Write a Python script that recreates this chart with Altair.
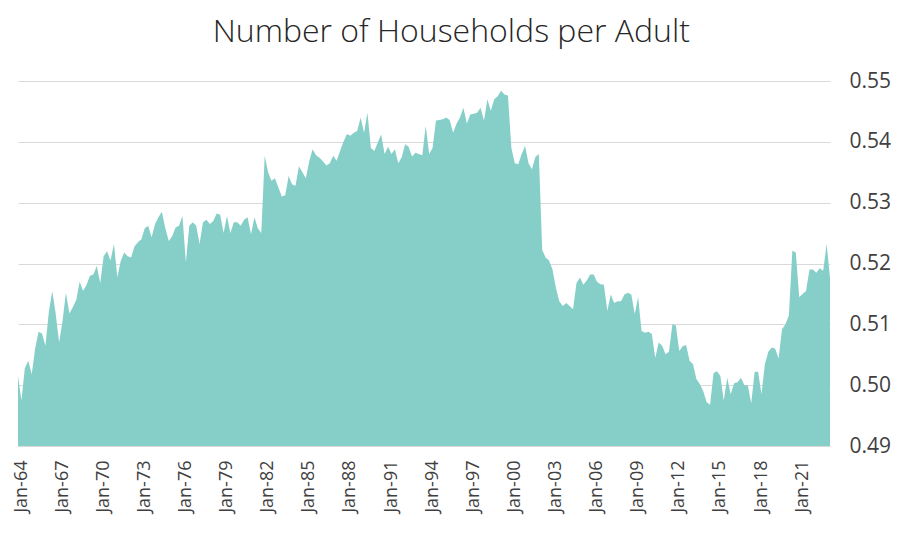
import altair as alt
import pandas as pd

# Quarterly values (Jan, Apr, Jul, Oct)
q_1964_1969 = [0.5015, 0.4975, 0.5028, 0.5040,
               0.5018, 0.5060, 0.5088, 0.5085,
               0.5065, 0.5120, 0.5155, 0.5118,
               0.5070, 0.5105, 0.5152, 0.5118,
               0.5128, 0.5140, 0.5170, 0.5155,
               0.5165, 0.5180, 0.5182, 0.5196]
q_1970s = [0.5168, 0.5212, 0.5220, 0.5205,
           0.5232, 0.5178, 0.5204, 0.5218,
           0.5212, 0.5210, 0.5228, 0.5235,
           0.5240, 0.5258, 0.5262, 0.5243,
           0.5265, 0.5276, 0.5285, 0.5258,
           0.5237, 0.5245, 0.5259, 0.5262,
           0.5278, 0.5202, 0.5262, 0.5268,
           0.5262, 0.5232, 0.5268, 0.5272,
           0.5265, 0.5270, 0.5282, 0.5280,
           0.5250, 0.5278, 0.5250, 0.5268]
q_1980s = [0.5268, 0.5262, 0.5272, 0.5276,
           0.5248, 0.5276, 0.5258, 0.5250,
           0.5377, 0.5350, 0.5336, 0.5340,
           0.5325, 0.5310, 0.5312, 0.5344,
           0.5330, 0.5328, 0.5360, 0.5350,
           0.5340, 0.5368, 0.5388, 0.5378,
           0.5374, 0.5368, 0.5361, 0.5365,
           0.5377, 0.5369, 0.5385, 0.5400,
           0.5413, 0.5410, 0.5415, 0.5418,
           0.5440, 0.5415, 0.5448, 0.5390]
q_1990s = [0.5385, 0.5399, 0.5412, 0.5380,
           0.5392, 0.5380, 0.5388, 0.5365,
           0.5375, 0.5396, 0.5392, 0.5376,
           0.5382, 0.5380, 0.5378, 0.5426,
           0.5380, 0.5390, 0.5435, 0.5436,
           0.5437, 0.5440, 0.5436, 0.5415,
           0.5430, 0.5440, 0.5456, 0.5430,
           0.5445, 0.5446, 0.5448, 0.5456,
           0.5435, 0.5470, 0.5451, 0.5470,
           0.5475, 0.5484, 0.5478, 0.5476]
q_2000s = [0.5390, 0.5365, 0.5363, 0.5380,
           0.5393, 0.5365, 0.5355, 0.5375,
           0.5380, 0.5222, 0.5210, 0.5205,
           0.5190, 0.5160, 0.5138, 0.5130,
           0.5135, 0.5130, 0.5125, 0.5168,
           0.5177, 0.5165, 0.5172, 0.5182,
           0.5182, 0.5170, 0.5166, 0.5165,
           0.5122, 0.5149, 0.5135, 0.5138,
           0.5138, 0.5149, 0.5152, 0.5149,
           0.5117, 0.5145, 0.5089, 0.5086]
q_2010s = [0.5088, 0.5084, 0.5045, 0.5070,
           0.5065, 0.5051, 0.5055, 0.5100,
           0.5098, 0.5056, 0.5064, 0.5066,
           0.5040, 0.5035, 0.5010, 0.5002,
           0.4990, 0.4972, 0.4968, 0.5020,
           0.5023, 0.5015, 0.4975, 0.5012,
           0.4985, 0.5003, 0.5005, 0.5012,
           0.5000, 0.5000, 0.4970, 0.5022,
           0.5022, 0.4985, 0.5035, 0.5055,
           0.5062, 0.5060, 0.5044, 0.5092]
q_2020s = [0.5100, 0.5115, 0.5221, 0.5218,
           0.5145, 0.5150, 0.5155, 0.5190,
           0.5190, 0.5185, 0.5192, 0.5188,
           0.5232, 0.5177]

y_ticks = [0.49, 0.50, 0.51, 0.52, 0.53, 0.54, 0.55]
label_years = list(range(1964, 2022, 3))

values = q_1964_1969 + q_1970s + q_1980s + q_1990s + q_2000s + q_2010s + q_2020s
dates = pd.date_range("1964-01-01", periods=len(values), freq="QS")
df = pd.DataFrame({"date": dates.strftime("%Y-%m-%d"), "value": values})

x_ticks = [alt.DateTime(year=y, month=1, date=1) for y in label_years]

chart = alt.Chart(df).mark_area(color="#86cfc9", opacity=1, clip=True).encode(
    x=alt.X("date:T",
            scale=alt.Scale(nice=False),
            axis=alt.Axis(values=x_ticks, format="%b-%y", labelAngle=-90,
                          labelFont="Open Sans", labelFontSize=18, labelColor="#404040",
                          labelPadding=14, labelOffset=3, ticks=False, tickSize=0, grid=False,
                          domainColor="#d9d9d9", title=None, labelOverlap=False)),
    y=alt.Y("value:Q",
            scale=alt.Scale(domain=[0.49, 0.55], zero=False, nice=False),
            axis=alt.Axis(orient="right", values=y_ticks, format=".2f",
                          labelFont="Open Sans", labelFontSize=21, labelColor="#404040",
                          labelPadding=19, ticks=False, tickSize=0, domain=False,
                          grid=True, gridColor="#d9d9d9", title=None)),
).properties(
    width=812,
    height=365,
    padding={"left": 3, "top": 8, "right": 2, "bottom": 5},
    title=alt.TitleParams(text="Number of Households per Adult", fontSize=32,
                          font="Open Sans", fontWeight=300, color="#262626",
                          anchor="middle", frame="bounds", offset=21),
).configure_view(stroke=None)

chart.save("out.html", embed_options={"renderer": "svg", "actions": False})
